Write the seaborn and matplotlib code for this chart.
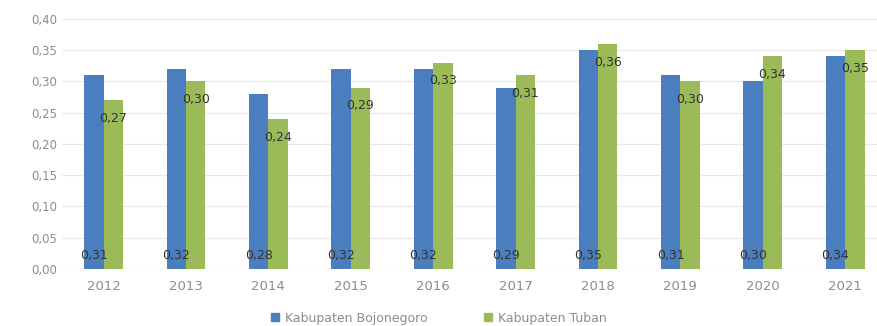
import numpy as np
import pandas as pd
import matplotlib
matplotlib.use("Agg")
import matplotlib.pyplot as plt
import seaborn as sns

# Data
years = ["2012", "2013", "2014", "2015", "2016", "2017", "2018", "2019", "2020", "2021"]
bojonegoro = [0.31, 0.32, 0.28, 0.32, 0.32, 0.29, 0.35, 0.31, 0.30, 0.34]
tuban = [0.27, 0.30, 0.24, 0.29, 0.33, 0.31, 0.36, 0.30, 0.34, 0.35]
series = ["Kabupaten Bojonegoro", "Kabupaten Tuban"]

df = pd.DataFrame({
    "tahun": years * 2,
    "nilai": bojonegoro + tuban,
    "wilayah": [series[0]] * len(years) + [series[1]] * len(years),
})

sns.set_style("white")
plt.rcParams["font.family"] = ["DejaVu Sans"]

fig = plt.figure(figsize=(8.78, 3.26), dpi=100)
ax = fig.add_axes([0.071, 0.175, 0.9385, 0.767])

sns.barplot(data=df, x="tahun", y="nilai", hue="wilayah",
            palette=["#4A7EBF", "#9BBB59"], width=0.47, gap=0,
            saturation=1, linewidth=0, ax=ax, legend=False)

ax.set_ylim(0, 0.40)
ax.set_xlim(-0.5, len(years) - 0.5)
ax.set_yticks(np.arange(0, 0.401, 0.05))
ax.set_yticklabels([f"{t:.2f}".replace(".", ",") for t in np.arange(0, 0.401, 0.05)])
ax.yaxis.grid(True, color="#E8E8E8", linewidth=0.8)
ax.set_axisbelow(True)
for s in ax.spines.values():
    s.set_visible(False)
ax.axhline(0, color="#D9D9D9", linewidth=0.8, zorder=0)
ax.set_xlabel("")
ax.set_ylabel("")
ax.tick_params(axis="both", length=0, colors="#8C8C8C", labelsize=8.5)
ax.tick_params(axis="x", pad=8, labelsize=9.5)

# data labels: blue ones at the base, green ones just under the bar top
blue_bars, green_bars = ax.containers[0], ax.containers[1]
for bar, v in zip(blue_bars, bojonegoro):
    ax.text(bar.get_x() + bar.get_width() / 2, 0.022, f"{v:.2f}".replace(".", ","),
            ha="center", va="center", fontsize=9, color="#333333")
for bar, v in zip(green_bars, tuban):
    ax.text(bar.get_x() + bar.get_width() / 2, v - 0.029, f"{v:.2f}".replace(".", ","),
            ha="center", va="center", fontsize=9, color="#333333")

handles = [plt.Rectangle((0, 0), 1, 1, color=c) for c in ["#4A7EBF", "#9BBB59"]]
fig.legend(handles, series, loc="lower center", bbox_to_anchor=(0.5, -0.03),
           ncol=2, frameon=False, fontsize=9, handlelength=0.6, handleheight=0.6,
           columnspacing=4.5, handletextpad=0.5, labelcolor="#8C8C8C")

fig.savefig("out.png", dpi=100)
